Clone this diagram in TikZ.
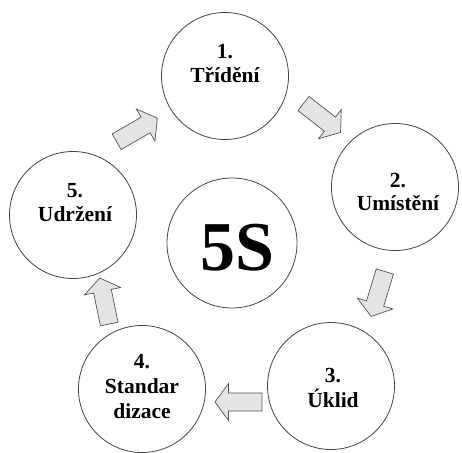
\documentclass[tikz,border=0pt]{standalone}
\usepackage{fontspec}
\setmainfont{Liberation Serif}
\definecolor{arrowfill}{HTML}{E4E4E4}
\definecolor{arrowline}{HTML}{555555}
\definecolor{ringline}{HTML}{444444}
\tikzset{
  ring/.style={circle, draw=ringline, line width=0.8pt, fill=white, minimum size=127pt, inner sep=0pt},
  lbl/.style={font=\fontsize{21.5}{24}\selectfont\bfseries, inner sep=0pt, anchor=base},
  blkarrow/.pic={
    \draw[draw=arrowline, fill=arrowfill, line width=0.7pt, line join=miter]
      (-23.5,-9) -- (10,-9) -- (10,-18.5) -- (23.5,0) -- (10,18.5) -- (10,9) -- (-23.5,9) -- cycle;
  }
}
\begin{document}
\begin{tikzpicture}[x=1pt,y=-1pt]
\useasboundingbox (0,0) rectangle (462,452);
% circles
\node[ring] (c1) at (225,76) {};
\node[ring] (c2) at (395,187) {};
\node[ring] (c3) at (331,386) {};
\node[ring] (c4) at (142,389) {};
\node[ring] (c5) at (73,215) {};
\node[ring, minimum size=130pt] (c0) at (232,243) {};
% labels
\node[lbl] (t1a) at (225,58) {1.};
\node[lbl] (t1b) at (225,82) {Třídění};
\node[lbl] (t2a) at (398,187) {2.};
\node[lbl] (t2b) at (398,210) {Umístění};
\node[lbl] (t3a) at (333,382) {3.};
\node[lbl] (t3b) at (333,407) {Úklid};
\node[lbl] (t4a) at (142,368) {4.};
\node[lbl] (t4b) at (142,393) {Standar};
\node[lbl] (t4c) at (142,418) {dizace};
\node[lbl] (t5a) at (75,197) {5.};
\node[lbl] (t5b) at (75,221) {Udržení};
\node[font=\fontsize{70}{70}\selectfont\bfseries, inner sep=0pt, anchor=base] (t0) at (237,270) {5S};
% block arrows
\pic[rotate=30] (a1) at (137,130) {blkarrow};
\pic[rotate=-38] (a2) at (322,118) {blkarrow};
\pic[rotate=-107] (a3) at (378,294) {blkarrow};
\pic[rotate=180] (a4) at (238.5,402) {blkarrow};
\pic[rotate=101.6] (a5) at (104.5,301) {blkarrow};
\end{tikzpicture}
\end{document}
